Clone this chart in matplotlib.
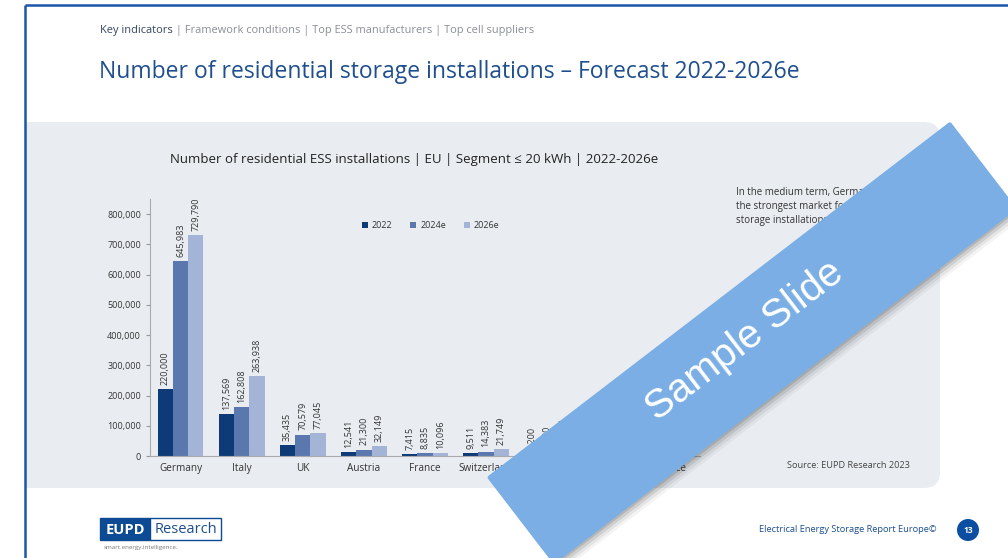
import numpy as np
import matplotlib
matplotlib.use("Agg")
import matplotlib.pyplot as plt
from matplotlib.patches import Polygon, FancyBboxPatch, Rectangle, Circle

plt.rcParams['font.family'] = ['Open Sans', 'DejaVu Sans']

# data (last three groups are hidden under the banner -> estimated)
countries = ["Germany", "Italy", "UK", "Austria", "France", "Switzerland", "Spain", "Belgium", "Greece"]
years = ["2022", "2024e", "2026e"]
v2022 = [220000, 137569, 35435, 12541, 7415, 9511, 6200, 4100, 8500]
v2024 = [645983, 162808, 70579, 21300, 8835, 14383, 9800, 7300, 19000]
v2026 = [729790, 263938, 77045, 32149, 10096, 21749, 14500, 11200, 30500]
yticks = [0, 100000, 200000, 300000, 400000, 500000, 600000, 700000, 800000]

colors = ["#0e3a78", "#5b78ae", "#a3b4d6"]
navy = "#1c4f8f"

W, H = 1008, 558
fig = plt.figure(figsize=(W / 100, H / 100), dpi=100)

# slide background (pixel coordinates, y down)
bg = fig.add_axes([0, 0, 1, 1], zorder=0)
bg.set_xlim(0, W)
bg.set_ylim(H, 0)
bg.axis("off")

clip = Rectangle((25, 0), W, H, transform=bg.transData, visible=False)
bg.add_patch(clip)
panel = FancyBboxPatch((-20, 122), 960, 366, boxstyle="round,pad=0,rounding_size=16",
                       fc="#e9edf2", ec="none")
bg.add_patch(panel)
panel.set_clip_path(clip)

bg.plot([25, W], [5, 5], color="#1d55a6", lw=1.8, solid_capstyle="butt")
bg.plot([25, 25], [5, H], color="#1d55a6", lw=1.8, solid_capstyle="butt")

t1 = bg.text(100, 31, "Key indicators", fontsize=7.9, color="#34465e", va="center")
bg.annotate(" | Framework conditions | Top ESS manufacturers | Top cell suppliers",
            xy=(1, 0.5), xycoords=t1, va="center", fontsize=7.9, color="#8a8f96")
bg.text(99, 72, "Number of residential storage installations \u2013 Forecast 2022-2026e",
        fontsize=16.5, color="#1f4f8e", va="center")

bg.text(414, 160, "Number of residential ESS installations | EU | Segment \u2264 20 kWh | 2022-2026e",
        fontsize=9.5, color="#222222", ha="center", va="center")

for i, line in enumerate(["In the medium term, Germany will remain",
                          "the strongest market for residential",
                          "storage installations in Europe."]):
    bg.text(736, 193 + i * 14, line, fontsize=7, color="#333333", va="center")

bg.text(910, 466, "Source: EUPD Research 2023", fontsize=6.6, color="#444444",
        ha="right", va="center")

# logo + footer
bg.add_patch(Rectangle((100, 518), 50, 22, fc="#0d4a94", ec="#0d4a94", lw=1))
bg.add_patch(Rectangle((150, 518), 71, 22, fc="white", ec="#0d4a94", lw=1))
bg.text(125, 529.5, "EUPD", color="white", fontsize=10.5, fontweight="bold",
        ha="center", va="center")
bg.text(185.5, 529.5, "Research", color="#1d4f8d", fontsize=10.5, ha="center", va="center")
bg.text(104, 548, "smart.energy.intelligence.", color="#777777", fontsize=4.5, va="center")

bg.text(937, 530, "Electrical Energy Storage Report Europe\u00a9", fontsize=6.7,
        color=navy, ha="right", va="center")
bg.add_patch(Circle((968, 530), 11, fc="#0b4ea2", ec="none"))
bg.text(968, 530.5, "13", color="white", fontsize=6, fontweight="bold",
        ha="center", va="center")

# chart
ax = fig.add_axes([150 / W, 102 / H, 550 / W, 257 / H], zorder=1)
ax.patch.set_alpha(0)
x = np.arange(len(countries))
bw = 0.25
for k, (vals, lab, c) in enumerate(zip([v2022, v2024, v2026], years, colors)):
    bars = ax.bar(x + (k - 1) * bw, vals, bw, color=c, label=lab)
    ax.bar_label(bars, labels=[f"{v:,}" for v in vals], rotation=90, padding=3,
                 fontsize=6.5, color="#333333")

ax.set_xlim(-0.5, len(countries) - 0.5)
ax.set_ylim(0, 850000)
ax.set_yticks(yticks)
ax.set_yticklabels([f"{v:,}" for v in yticks])
ax.set_xticks(x, countries)
ax.tick_params(axis="y", labelsize=6.5, labelcolor="#333333", length=3, color="#999999")
ax.tick_params(axis="x", labelsize=7.2, labelcolor="#333333", length=0, pad=5)
for s in ["top", "right"]:
    ax.spines[s].set_visible(False)
for s in ["left", "bottom"]:
    ax.spines[s].set_color("#aaaaaa")
    ax.spines[s].set_linewidth(0.8)

ax.legend(ncol=3, loc="center", bbox_to_anchor=(0.51, 0.895), frameon=False,
          fontsize=6.5, handlelength=0.7, handleheight=0.7, columnspacing=2.0,
          handletextpad=0.4, labelcolor="#333333")

# "Sample Slide" banner on top
ov = fig.add_axes([0, 0, 1, 1], zorder=2)
ov.set_xlim(0, W)
ov.set_ylim(H, 0)
ov.axis("off")
ov.patch.set_alpha(0)

cx, cy, ang, L, Wd = 752, 343, np.deg2rad(37.5), 580, 106
u = np.array([np.cos(ang), -np.sin(ang)])
v = np.array([np.sin(ang), np.cos(ang)])
c0 = np.array([cx, cy])
corners = [c0 - L / 2 * u - Wd / 2 * v, c0 + L / 2 * u - Wd / 2 * v,
           c0 + L / 2 * u + Wd / 2 * v, c0 - L / 2 * u + Wd / 2 * v]
for d, a in [(9, 0.05), (7, 0.08), (5, 0.12), (3, 0.16)]:
    ov.add_patch(Polygon([p + np.array([d, d]) for p in corners], closed=True,
                         fc="#333333", ec="none", alpha=a))
ov.add_patch(Polygon(corners, closed=True, fc="#7aaee4", ec="#7aaee4", lw=3,
                     joinstyle="round"))
ov.text(745, 341, "Sample Slide", rotation=37.5, rotation_mode="anchor", fontsize=29,
        color="white", ha="center", va="center", family=["Liberation Sans", "DejaVu Sans"])

fig.savefig("out.png", dpi=100)
